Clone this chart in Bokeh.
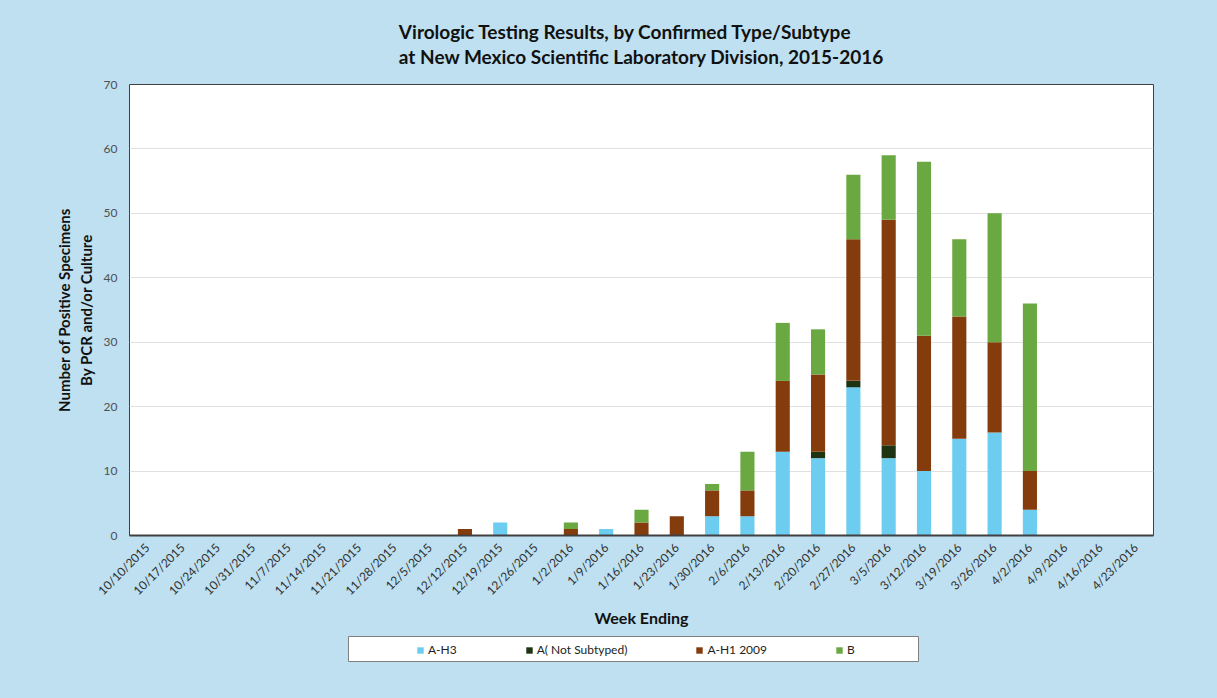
import math
from bokeh.plotting import figure
from bokeh.layouts import column, row
from bokeh.models import FactorRange, Legend, LegendItem, Title, Range1d, ColumnDataSource
from bokeh.embed import file_html
from bokeh.resources import INLINE

weeks = ["10/10/2015", "10/17/2015", "10/24/2015", "10/31/2015", "11/7/2015", "11/14/2015",
         "11/21/2015", "11/28/2015", "12/5/2015", "12/12/2015", "12/19/2015", "12/26/2015",
         "1/2/2016", "1/9/2016", "1/16/2016", "1/23/2016", "1/30/2016", "2/6/2016",
         "2/13/2016", "2/20/2016", "2/27/2016", "3/5/2016", "3/12/2016", "3/19/2016",
         "3/26/2016", "4/2/2016", "4/9/2016", "4/16/2016", "4/23/2016"]
a_h3 =   [0, 0, 0, 0, 0, 0, 0, 0, 0, 0, 2, 0, 0, 1, 0, 0, 3, 3, 13, 12, 23, 12, 10, 15, 16, 4, 0, 0, 0]
a_ns =   [0, 0, 0, 0, 0, 0, 0, 0, 0, 0, 0, 0, 0, 0, 0, 0, 0, 0, 0, 1, 1, 2, 0, 0, 0, 0, 0, 0, 0]
a_h1 =   [0, 0, 0, 0, 0, 0, 0, 0, 0, 1, 0, 0, 1, 0, 2, 3, 4, 4, 11, 12, 22, 35, 21, 19, 14, 6, 0, 0, 0]
b_vals = [0, 0, 0, 0, 0, 0, 0, 0, 0, 0, 0, 0, 1, 0, 2, 0, 1, 6, 9, 7, 10, 10, 27, 12, 20, 26, 0, 0, 0]
series_names = ["A-H3", "A( Not Subtyped)", "A-H1 2009", "B"]
colors = ["#6DCDF0", "#1D3311", "#843C0C", "#6AA842"]

title_lines = ["Virologic Testing Results, by Confirmed Type/Subtype",
               "at New Mexico Scientific Laboratory Division, 2015-2016"]

FONT = "Lato"
BG = "#BEE0F0"
W = 1217

src = ColumnDataSource(dict(week=weeks, h3=a_h3, ns=a_ns, h1=a_h1, b=b_vals))

p = figure(width=W, height=630, x_range=FactorRange(*weeks, range_padding=0),
           y_range=Range1d(0, 70), output_backend="svg", toolbar_location=None,
           min_border_left=129, min_border_right=64, min_border_top=84, min_border_bottom=88)
p.background_fill_color = "white"
p.border_fill_color = BG
p.outline_line_color = "#404040"
p.outline_line_width = 1

rs = p.vbar_stack(["h3", "ns", "h1", "b"], x="week", width=0.4, color=colors,
                  line_color=None, source=src)

p.xgrid.grid_line_color = None
p.ygrid.grid_line_color = "#E0E0E0"
p.yaxis.ticker = list(range(0, 71, 10))
p.yaxis.axis_line_color = None
p.yaxis.major_tick_line_color = None
p.yaxis.minor_tick_line_color = None
p.yaxis.major_label_text_font = FONT
p.yaxis.major_label_text_font_style = "normal"
p.yaxis.major_label_text_font_size = "12px"
p.yaxis.major_label_text_color = "#505050"
p.yaxis.major_label_standoff = 6
p.yaxis.axis_label = "Number of Positive Specimens\nBy PCR and/or Culture"
p.yaxis.axis_label_text_font = FONT
p.yaxis.axis_label_text_font_style = "bold"
p.yaxis.axis_label_text_font_size = "15px"
p.yaxis.axis_label_text_color = "#111111"
p.yaxis.axis_label_standoff = 6

p.xaxis.axis_line_color = "#404040"
p.xaxis.axis_line_width = 2
p.xaxis.major_tick_line_color = None
p.xaxis.minor_tick_line_color = None
p.xaxis.major_label_orientation = math.pi / 4
p.xaxis.major_label_text_font = FONT
p.xaxis.major_label_text_font_size = "12px"
p.xaxis.major_label_text_color = "#303030"
p.xaxis.major_label_standoff = 4
p.xaxis.axis_label = "Week Ending"
p.xaxis.axis_label_text_font = FONT
p.xaxis.axis_label_text_font_style = "bold"
p.xaxis.axis_label_text_font_size = "16px"
p.xaxis.axis_label_text_color = "#111111"
p.xaxis.axis_label_standoff = 2

p.add_layout(Title(text="\n".join(title_lines), align="center", text_font=FONT,
                   text_font_style="bold", text_font_size="19px", text_line_height=1.12,
                   text_color="#111111", standoff=32), "above")

# legend strip
lg = figure(width=W, height=68, x_range=Range1d(0, 1), y_range=Range1d(0, 1),
            output_backend="svg", toolbar_location=None,
            min_border_left=348, min_border_right=W - 918, min_border_top=6, min_border_bottom=37)
lg.background_fill_color = "white"
lg.border_fill_color = BG
lg.outline_line_color = "#808080"
lg.axis.visible = False
lg.grid.visible = False
# swatch renderers kept outside the visible range; they only feed the legend
dummies = [lg.quad(left=[-5], right=[-4], bottom=[-5], top=[-4], fill_color=c, line_color=None)
           for c in colors]
legend = Legend(items=[LegendItem(label=n, renderers=[r]) for n, r in zip(series_names, dummies)],
                orientation="horizontal", location=(68, 4),
                label_text_font=FONT, label_text_font_size="12px", label_text_color="#222222",
                glyph_width=8, glyph_height=8, label_standoff=4, label_height=14,
                spacing=68, padding=5, margin=0,
                border_line_color=None, background_fill_alpha=0)
lg.add_layout(legend)

layout = column(row(p, background=BG), row(lg, background=BG), spacing=0, background=BG)
open("out.html", "w").write(file_html(layout, INLINE))
